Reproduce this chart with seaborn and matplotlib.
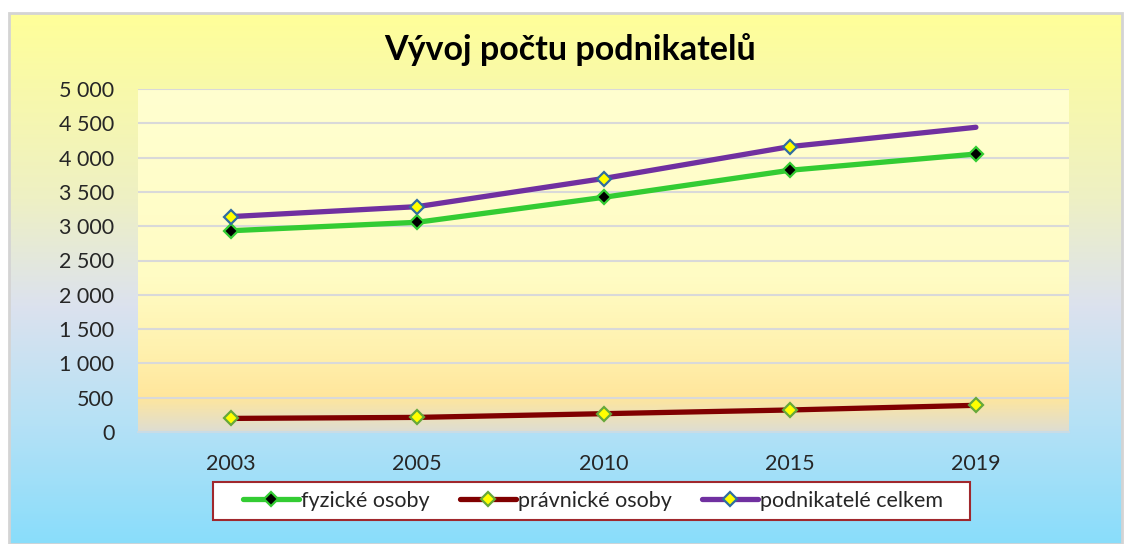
import numpy as np
import pandas as pd
import matplotlib.pyplot as plt
import seaborn as sns
from matplotlib.colors import LinearSegmentedColormap
from matplotlib.ticker import FuncFormatter, MultipleLocator
from matplotlib.patches import Rectangle

# Data
roky = ['2003', '2005', '2010', '2015', '2019']
fyzicke = [2934, 3057, 3421, 3815, 4052]
pravnicke = [198, 213, 267, 321, 389]
celkem = [3140, 3285, 3695, 4160, 4442]
nazvy = ['fyzické osoby', 'právnické osoby', 'podnikatelé celkem']

df = pd.DataFrame({
    'rok': roky * 3,
    'pocet': fyzicke + pravnicke + celkem,
    'serie': np.repeat(nazvy, len(roky)),
})

sns.set_style('white')
plt.rcParams['font.family'] = ['Lato', 'DejaVu Sans']

W, H = 1126, 544
fig = plt.figure(figsize=(W / 100, H / 100), dpi=100)
fig.patch.set_facecolor('white')

# pozadí celého grafu - přechod žlutá -> modrá
bg = fig.add_axes([9 / W, 0, (1122 - 9) / W, (H - 13) / H], zorder=0)
bg_cmap = LinearSegmentedColormap.from_list('bg', [
    (0, '#FFFF99'), (0.35, '#EEF0C4'), (0.55, '#DCE2EE'),
    (0.78, '#B4E1F6'), (1, '#89DDFB')])
bg.imshow(np.linspace(0, 1, 256).reshape(-1, 1), aspect='auto', cmap=bg_cmap,
          extent=[0, 1, 0, 1])
bg.axis('off')
fig.patches.append(Rectangle((9 / W, 0), (1122 - 9) / W, (H - 13) / H,
                             transform=fig.transFigure, fill=False,
                             edgecolor='#D4D4D4', lw=2, zorder=1))

# pozadí oblasti grafu
pos = [138 / W, (H - 432) / H, (1069 - 138) / W, (432 - 89) / H]
pbg = fig.add_axes(pos, zorder=1)
plot_cmap = LinearSegmentedColormap.from_list('plot', [
    (0, '#FFFFD0'), (0.55, '#FFFCC4'), (0.75, '#FFF2B0'),
    (0.9, '#FFE69C'), (1, '#DEDDD2')])
pbg.imshow(np.linspace(0, 1, 256).reshape(-1, 1), aspect='auto', cmap=plot_cmap,
           extent=[0, 1, 0, 1])
pbg.axis('off')

ax = fig.add_axes(pos, zorder=2)
ax.set_facecolor('none')

styly = {
    'fyzické osoby': dict(color='#33CC33', markerfacecolor='black',
                          markeredgecolor='#33CC33', markevery=None),
    'právnické osoby': dict(color='#800000', markerfacecolor='#FFFF00',
                            markeredgecolor='#66A83A', markevery=None),
    'podnikatelé celkem': dict(color='#7030A0', markerfacecolor='#FFFF00',
                               markeredgecolor='#2F6DA0', markevery=[0, 1, 2, 3]),
}

for nazev in nazvy:
    st = styly[nazev]
    sns.lineplot(data=df[df['serie'] == nazev], x='rok', y='pocet', ax=ax,
                 color=st['color'], linewidth=3.8, marker='D', markersize=7.5,
                 markerfacecolor=st['markerfacecolor'],
                 markeredgecolor=st['markeredgecolor'], markeredgewidth=1.6,
                 markevery=st['markevery'], sort=False, label=nazev, legend=False)

ax.set_xlim(-0.5, len(roky) - 0.5)
ax.set_ylim(0, 5000)
ax.yaxis.set_major_locator(MultipleLocator(500))
ax.yaxis.set_major_formatter(FuncFormatter(lambda v, p: f'{int(v):,}'.replace(',', ' ')))
ax.yaxis.grid(True, color='#D9D9D9', lw=1.5)
ax.set_axisbelow(True)
ax.set_xlabel('')
ax.set_ylabel('')
for s in ['top', 'right', 'left']:
    ax.spines[s].set_visible(False)
ax.spines['bottom'].set_color('#C9DCE6')
ax.spines['bottom'].set_linewidth(1.5)
ax.tick_params(axis='both', length=0, labelsize=15.5, colors='#262626')
ax.tick_params(axis='y', pad=17)
ax.tick_params(axis='x', pad=16)

fig.text(570 / W, 1 - 50 / H, 'Vývoj počtu podnikatelů', ha='center', va='center',
         fontsize=24.5, fontweight='bold', color='black')

# rámeček legendy
fig.patches.append(Rectangle((213 / W, 1 - 520 / H), (970 - 213) / W, 38 / H,
                             transform=fig.transFigure, facecolor='white',
                             edgecolor='#A0282D', lw=1.5, zorder=1.5))
leg = ax.legend(handles=ax.lines, labels=nazvy, ncol=3, loc='center',
                bbox_to_anchor=(593 / W, 1 - 501 / H), bbox_transform=fig.transFigure,
                frameon=False, fontsize=15.5, handlelength=2.6, numpoints=1,
                columnspacing=1.4, handletextpad=0.1, borderaxespad=0)
for t in leg.get_texts():
    t.set_color('#262626')

plt.savefig('out.png', dpi=100)
